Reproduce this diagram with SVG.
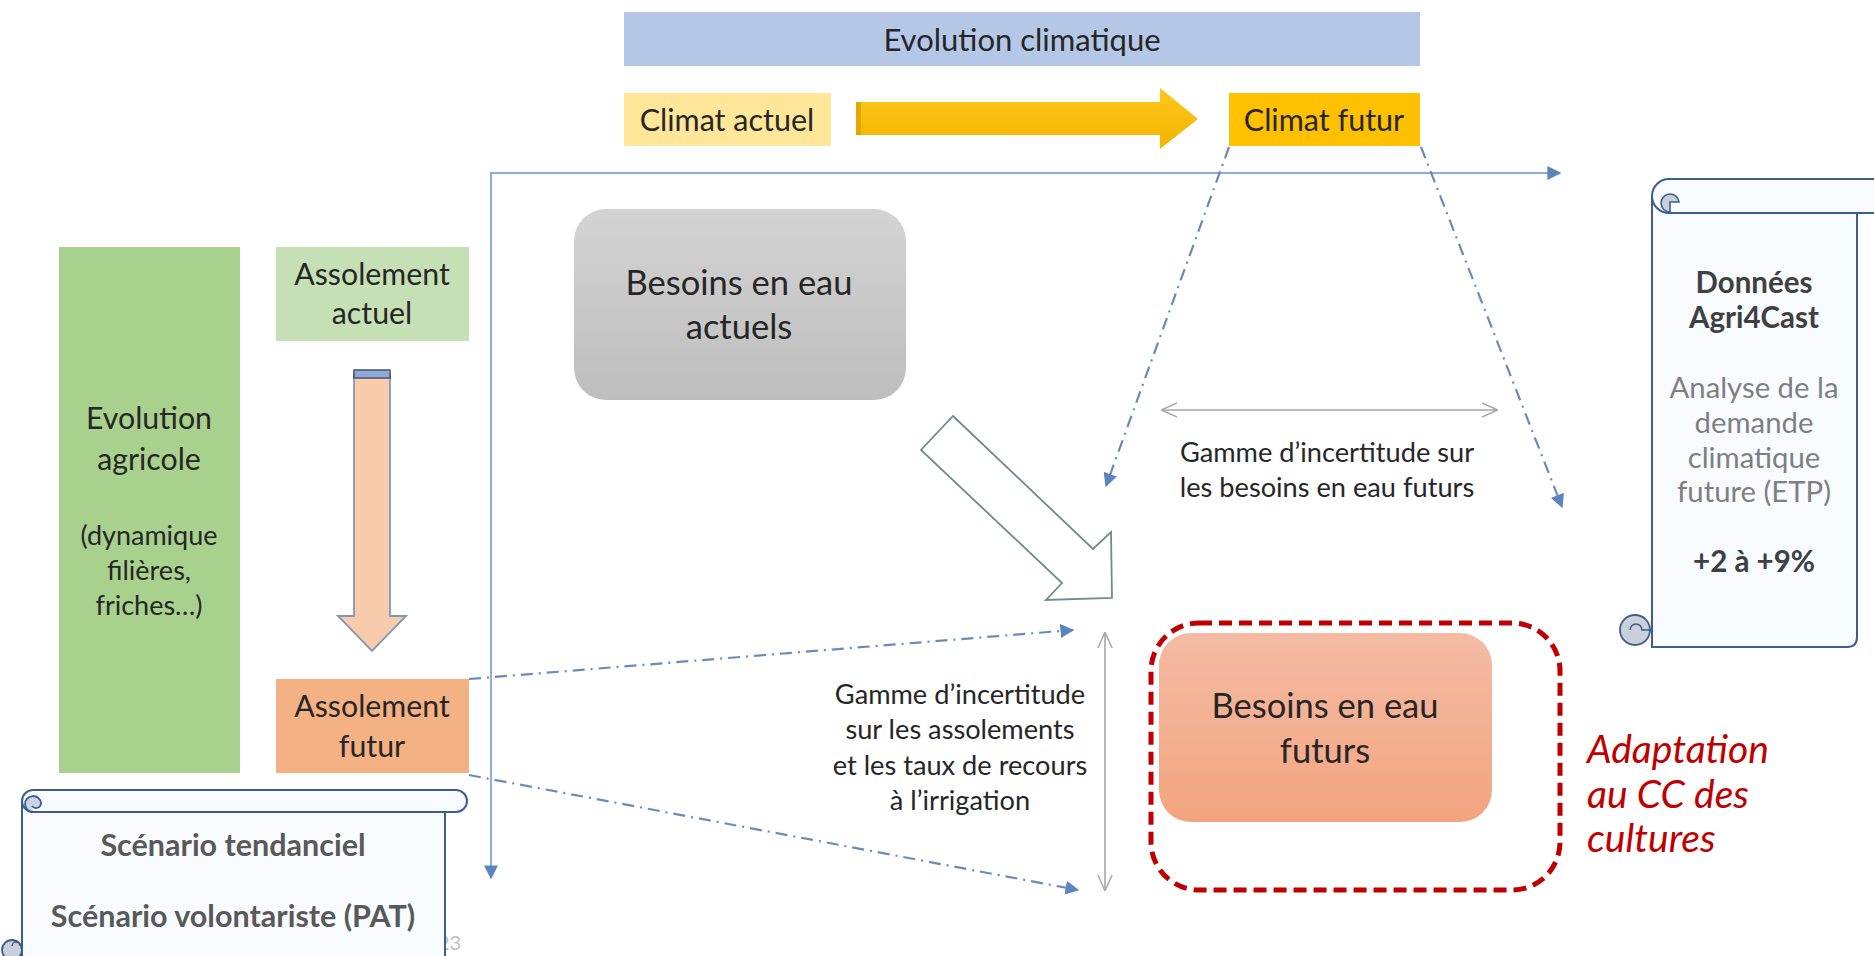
<svg xmlns="http://www.w3.org/2000/svg" width="1874" height="956" viewBox="0 0 1874 956">
<style>
  .t { font-family: Lato, "Open Sans", "Liberation Sans", sans-serif; fill: #262626; text-anchor: middle; }
  .b { font-weight: bold; }
  .scroll { stroke: #3E5D8F; stroke-width: 2; fill: #F8FBFF; }
  .dd { fill: none; stroke: #6A8BB8; stroke-width: 2.2; stroke-dasharray: 12 6 2 6; }
  .gray2 { fill: none; stroke: #A6A6A6; stroke-width: 1.6; }
  .red { font-family: Lato, "Open Sans", "Liberation Sans", sans-serif; fill: #C00000; font-style: italic; font-size: 39px; }
</style>
<defs>
  <marker id="blueTri" viewBox="0 0 10 10" refX="9" refY="5" markerWidth="14" markerHeight="14" markerUnits="userSpaceOnUse" orient="auto-start-reverse">
    <path d="M0,0 L10,5 L0,10 z" fill="#5B85BF"/>
  </marker>
  <marker id="grayChev" viewBox="0 0 10 10" refX="9.5" refY="5" markerWidth="16" markerHeight="16" markerUnits="userSpaceOnUse" orient="auto-start-reverse">
    <path d="M0,0.5 L10,5 L0,9.5" fill="none" stroke="#A6A6A6" stroke-width="0.9"/>
  </marker>
  <linearGradient id="grayGrad" x1="0" y1="0" x2="0" y2="1">
    <stop offset="0" stop-color="#D3D3D3"/>
    <stop offset="1" stop-color="#BEBEBE"/>
  </linearGradient>
  <linearGradient id="salmonGrad" x1="0" y1="0" x2="0" y2="1">
    <stop offset="0" stop-color="#F4BBA4"/>
    <stop offset="1" stop-color="#F3A47F"/>
  </linearGradient>
  <linearGradient id="goldGrad" x1="0" y1="0" x2="0" y2="1">
    <stop offset="0" stop-color="#FFC61A"/>
    <stop offset="1" stop-color="#F2B400"/>
  </linearGradient>
</defs>

<!-- slide number partly hidden -->
<text x="438" y="950" style="font-family: Lato, 'Liberation Sans', sans-serif; font-size: 20px; fill: #BFBFBF;">23</text>

<g id="evolution-climatique">
  <rect x="624" y="12" width="796" height="54" fill="#B4C7E7"/>
  <text class="t" x="1022" y="51" font-size="31">Evolution climatique</text>
</g>

<g id="climat-actuel">
  <rect x="624" y="93" width="207" height="53" fill="#FFE699"/>
  <text class="t" x="727" y="131" font-size="30.5">Climat actuel</text>
</g>

<g id="climat-futur">
  <rect x="1229" y="93" width="191" height="53" fill="#FFC000"/>
  <text class="t" x="1324" y="131" font-size="30.5">Climat futur</text>
</g>

<g id="besoins-actuels">
  <rect x="574" y="209" width="332" height="191" rx="32" fill="url(#grayGrad)"/>
  <text class="t" x="739" y="295" font-size="34.5">Besoins en eau</text>
  <text class="t" x="739" y="339" font-size="34.5">actuels</text>
</g>

<g id="evolution-agricole">
  <rect x="59" y="247" width="181" height="526" fill="#A9D18E"/>
  <text class="t" x="149" y="429" font-size="30.3">Evolution</text>
  <text class="t" x="149" y="470" font-size="30.3">agricole</text>
  <text class="t" x="149" y="545" font-size="27">(dynamique</text>
  <text class="t" x="149" y="580" font-size="27">filières,</text>
  <text class="t" x="149" y="615" font-size="27">friches…)</text>
</g>

<g id="assolement-actuel">
  <rect x="276" y="247" width="193" height="94" fill="#C5E0B4"/>
  <text class="t" x="372" y="285" font-size="30.3">Assolement</text>
  <text class="t" x="372" y="324" font-size="30.3">actuel</text>
</g>

<g id="assolement-futur">
  <rect x="276" y="679" width="193" height="94" fill="#F4B183"/>
  <text class="t" x="372" y="717" font-size="30.3">Assolement</text>
  <text class="t" x="372" y="757" font-size="30.3">futur</text>
</g>

<g id="scenarios">
  <path class="scroll" d="M22,801 L445,801 L445,962 L22,962 Z"/>
  <rect class="scroll" x="22" y="790" width="445" height="22" rx="11" fill="#F8FBFF"/>
  <path d="M33,812 a8,8 0 1 1 8,-9 a5,5 0 0 1 -9,3" fill="#C9D3E3" stroke="#3E5D8F" stroke-width="1.8"/>
  <circle cx="12" cy="950" r="10" fill="#C9D0DA" stroke="#3E5D8F" stroke-width="1.8"/>
  <path d="M12,946 a4,4 0 0 1 8,0" fill="none" stroke="#3E5D8F" stroke-width="1.5"/>
  <text class="t b" x="233" y="856" font-size="30.5" style="fill:#595959">Scénario tendanciel</text>
  <text class="t b" x="233" y="927" font-size="30.5" style="fill:#595959">Scénario volontariste (PAT)</text>
</g>

<g id="donnees-agri4cast">
  <path class="scroll" d="M1652,196 L1857,196 L1857,637 Q1857,647 1847,647 L1652,647 Z"/>
  <path class="scroll" d="M1669,179 L1880,179 L1880,213 L1669,213 A17,17 0 0 1 1669,179 Z"/>
  <path d="M1670,212 a9,9 0 1 1 9,-10 L1670,202 Z" fill="#C9D0DA" stroke="#3E5D8F" stroke-width="1.6"/>
  <circle cx="1635" cy="630" r="15" fill="#C9D0DA" stroke="#3E5D8F" stroke-width="1.8"/>
  <path d="M1630,630 a6,6 0 0 1 12,0 L1652,630" fill="none" stroke="#3E5D8F" stroke-width="1.6"/>
  <text class="t b" x="1754" y="293" font-size="29.5" style="fill:#404040">Données</text>
  <text class="t b" x="1754" y="328" font-size="29.5" style="fill:#404040">Agri4Cast</text>
  <text class="t" x="1754" y="398" font-size="29.3" style="fill:#7F7F7F">Analyse de la</text>
  <text class="t" x="1754" y="433" font-size="29.3" style="fill:#7F7F7F">demande</text>
  <text class="t" x="1754" y="468" font-size="29.3" style="fill:#7F7F7F">climatique</text>
  <text class="t" x="1754" y="502" font-size="29.3" style="fill:#7F7F7F">future (ETP)</text>
  <text class="t b" x="1754" y="572" font-size="29.5" style="fill:#404040">+2 à +9%</text>
</g>

<g id="besoins-futurs">
  <rect x="1151" y="623" width="409" height="267" rx="48" fill="none" stroke="#C00000" stroke-width="5" stroke-dasharray="13 7"/>
  <rect x="1159" y="633" width="333" height="189" rx="32" fill="url(#salmonGrad)"/>
  <text class="t" x="1325" y="718" font-size="34.5">Besoins en eau</text>
  <text class="t" x="1325" y="763" font-size="34.5">futurs</text>
</g>

<g id="adaptation">
  <text class="red" x="1587" y="763">Adaptation</text>
  <text class="red" x="1587" y="808">au CC des</text>
  <text class="red" x="1587" y="852">cultures</text>
</g>

<g id="label-incertitude-besoins">
  <text class="t" x="1327" y="462" font-size="27.2">Gamme d’incertitude sur</text>
  <text class="t" x="1327" y="497" font-size="27.2">les besoins en eau futurs</text>
</g>

<g id="label-incertitude-assolements">
  <text class="t" x="960" y="704" font-size="27.2">Gamme d’incertitude</text>
  <text class="t" x="960" y="739" font-size="27.2">sur les assolements</text>
  <text class="t" x="960" y="775" font-size="27.2">et les taux de recours</text>
  <text class="t" x="960" y="810" font-size="27.2">à l’irrigation</text>
</g>

<g id="connectors">
  <path d="M856,102 L1160,102 L1160,88 L1198,119 L1160,149 L1160,135 L856,135 Z" fill="url(#goldGrad)"/>
  <rect x="856" y="102" width="5" height="33" fill="#E0A800"/>
  <path d="M354,374 L390,374 L390,616 L406,616 L372,651 L338,616 L354,616 Z" fill="#F8CBAD" stroke="#8497B0" stroke-width="1.8"/>
  <rect x="354" y="370" width="36" height="8" fill="#8EA9DB" stroke="#44546A" stroke-width="1.5"/>
  <path d="M953,416 L1093,549 L1111,532 L1112,598 L1046,600 L1062,583 L921,450 Z" fill="#FFFFFF" stroke="#6F8C8C" stroke-width="1.8"/>
  <path d="M491,878 L491,173 L1560,173" fill="none" stroke="#8FAADC" stroke-width="2" marker-start="url(#blueTri)" marker-end="url(#blueTri)"/>
  <path class="dd" d="M1229,147 L1106,486" marker-end="url(#blueTri)"/>
  <path class="dd" d="M1421,147 L1562,507" marker-end="url(#blueTri)"/>
  <path class="dd" d="M469,679 L1073,630" marker-end="url(#blueTri)"/>
  <path class="dd" d="M469,775 L1078,890" marker-end="url(#blueTri)"/>
  <path class="gray2" d="M1162,410 L1497,410" marker-start="url(#grayChev)" marker-end="url(#grayChev)"/>
  <path class="gray2" d="M1105,633 L1105,890" marker-start="url(#grayChev)" marker-end="url(#grayChev)"/>
</g>
</svg>
